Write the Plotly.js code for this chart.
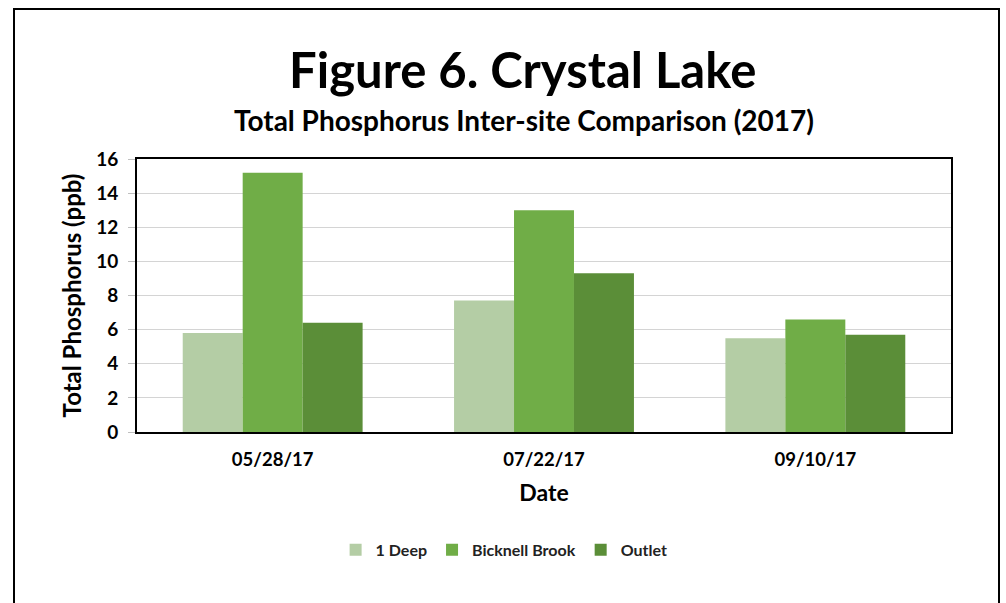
<!DOCTYPE html>
<html>
<head>
<meta charset="utf-8">
<script src="https://cdn.plot.ly/plotly-3.0.1.min.js"></script>
<style>
html,body{margin:0;padding:0;background:#fff;}
#wrap{position:relative;width:1006px;height:603px;}
#chart{position:absolute;left:0;top:0;width:1006px;height:603px;}
#frame{position:absolute;left:13px;top:8px;width:983px;height:600px;border:2px solid #000;border-bottom:none;pointer-events:none;}
</style>
</head>
<body>
<div id="wrap"><div id="chart"></div><div id="frame"></div></div>
<script>
const categories = ["05/28/17", "07/22/17", "09/10/17"];
const seriesNames = ["1 Deep", "Bicknell Brook", "Outlet"];
const deep1 = [5.8, 7.7, 5.5];
const bicknell = [15.2, 13.0, 6.6];
const outlet = [6.4, 9.3, 5.7];
const yTicks = [0, 2, 4, 6, 8, 10, 12, 14, 16];

const colors = ["#b4cda5", "#70ad47", "#5b8e38"];
const values = [deep1, bicknell, outlet];
const FONT = "Lato, 'Open Sans', sans-serif";

const traces = seriesNames.map((n, i) => ({
  type: "bar",
  name: n,
  x: categories,
  y: values[i],
  marker: {color: colors[i], line: {width: 0}},
  hoverinfo: "x+y+name"
}));

const layout = {
  width: 1006, height: 603,
  margin: {l: 137, r: 55, t: 159, b: 171},
  paper_bgcolor: "#fff", plot_bgcolor: "#fff",
  font: {family: FONT, color: "#000"},
  barmode: "group",
  bargap: 0.337,
  bargroupgap: 0,
  showlegend: true,
  legend: {
    orientation: "h", x: 0.244, xanchor: "left", y: -0.432, yanchor: "middle",
    font: {family: FONT, size: 16, color: "#222", weight: "bold"},
    itemwidth: 30, traceorder: "normal"
  },
  xaxis: {
    type: "category",
    showline: true, linecolor: "#000", linewidth: 2, mirror: true,
    ticks: "", showgrid: false, ticklabelstandoff: 10,
    tickfont: {family: FONT, size: 18.5, weight: "bold", color: "#000"},
    title: {text: "Date", font: {family: FONT, size: 23, weight: "bold", color: "#000"}, standoff: 16}
  },
  yaxis: {
    range: [0, 16], tickvals: yTicks, ticktext: yTicks.map(String),
    showline: true, linecolor: "#000", linewidth: 2, mirror: true,
    showgrid: true, gridcolor: "#d4d4d4", gridwidth: 1,
    ticks: "outside", ticklen: 7, tickcolor: "#bfbfbf", ticklabelstandoff: 6,
    tickfont: {family: FONT, size: 19, weight: "bold", color: "#000"},
    zeroline: false
  },
  annotations: [
    {text: "Figure 6. Crystal Lake", xref: "paper", yref: "paper", x: 0.473, y: 1.33,
     xanchor: "center", yanchor: "middle", showarrow: false,
     font: {family: FONT, size: 49, weight: "bold", color: "#000"}},
    {text: "Total Phosphorus Inter-site Comparison (2017)", xref: "paper", yref: "paper", x: 0.475, y: 1.143,
     xanchor: "center", yanchor: "middle", showarrow: false,
     font: {family: FONT, size: 28, weight: "bold", color: "#000"}},
    {text: "Total Phosphorus (ppb)", xref: "paper", yref: "paper", x: -0.08, y: 0.5,
     xanchor: "center", yanchor: "middle", textangle: -90, showarrow: false,
     font: {family: FONT, size: 24, weight: "bold", color: "#000"}}
  ]
};

Plotly.newPlot("chart", traces, layout, {displayModeBar: false, responsive: false});
</script>
</body>
</html>
